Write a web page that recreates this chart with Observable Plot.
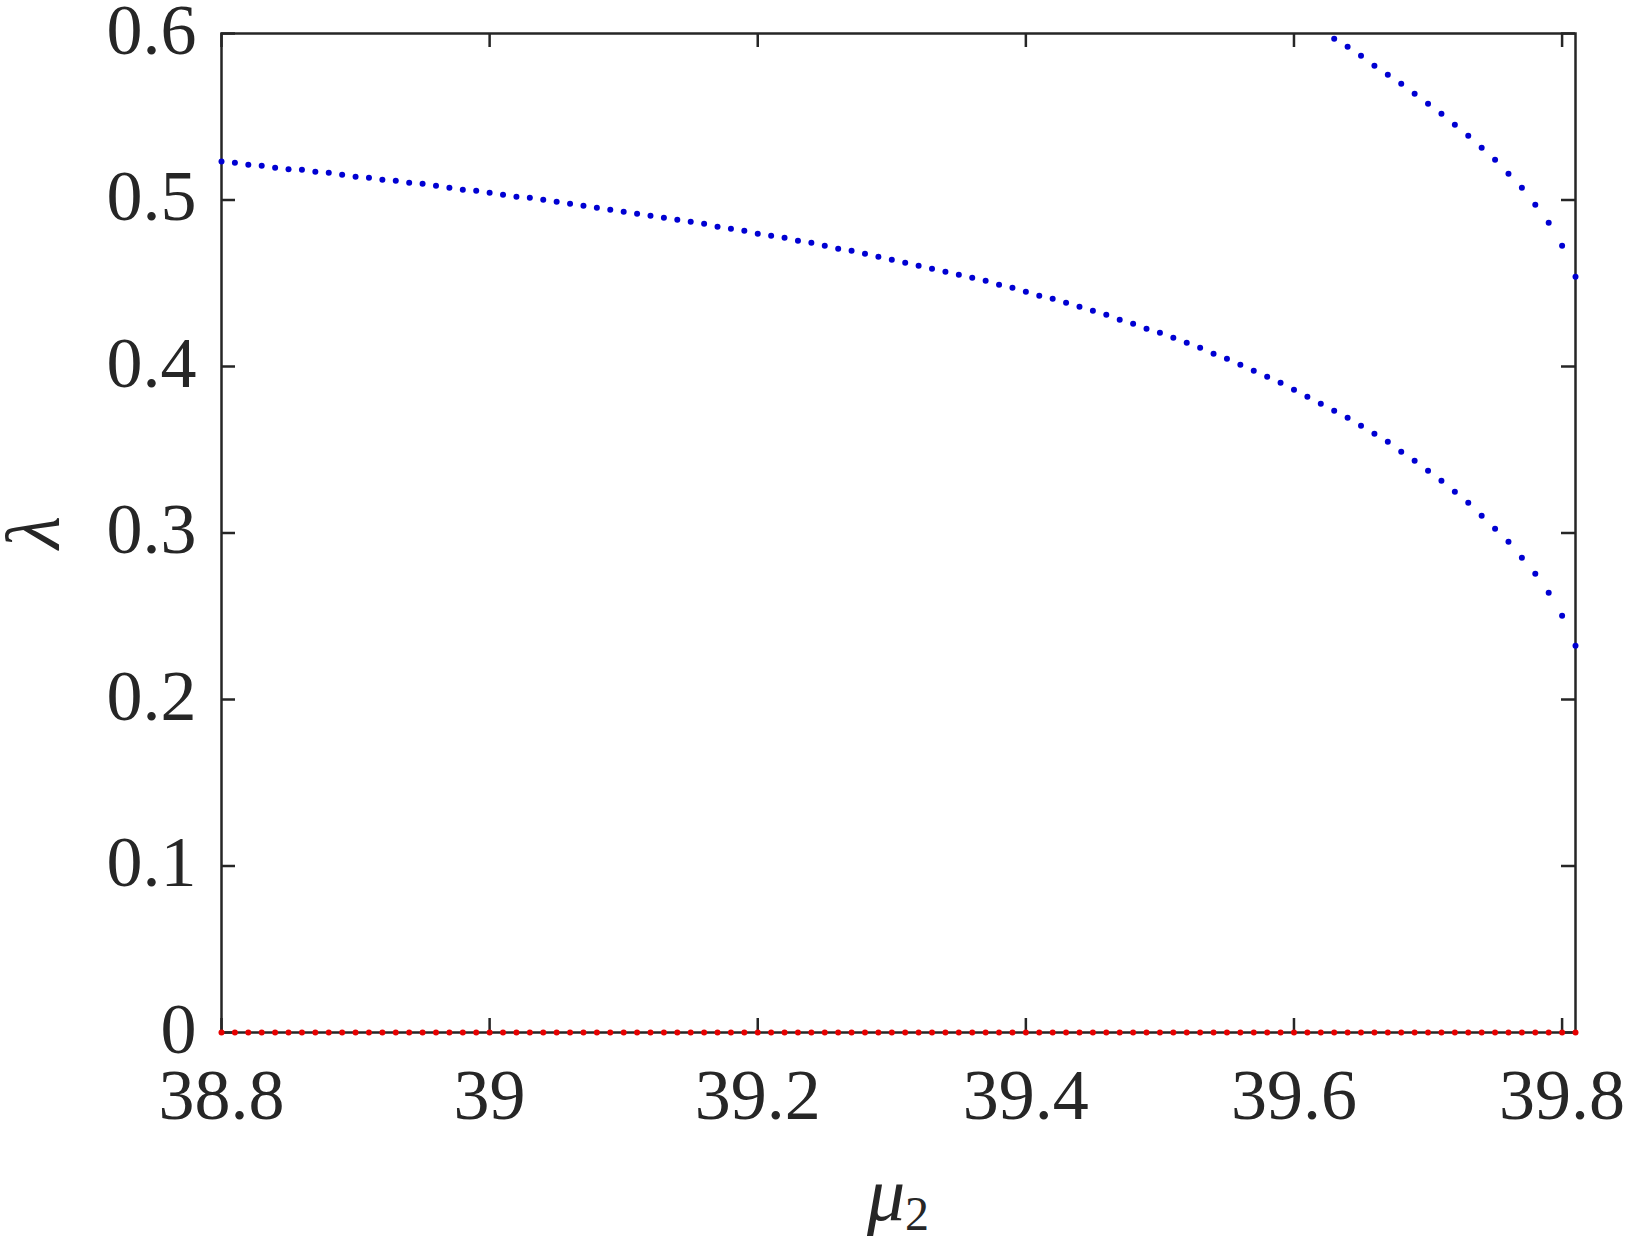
<!DOCTYPE html>
<html>
<head>
<meta charset="utf-8">
<script src="https://cdn.jsdelivr.net/npm/d3@7"></script>
<script src="https://cdn.jsdelivr.net/npm/@observablehq/plot@0.6"></script>
<style>
  html, body { margin: 0; padding: 0; background: #ffffff; }
  #chart { width: 1632px; height: 1240px; }
</style>
</head>
<body>
<div id="chart"></div>
<script>
// ---- data ----
const mu = [
  38.80, 38.81, 38.82, 38.83, 38.84, 38.85, 38.86, 38.87, 38.88, 38.89,
  38.90, 38.91, 38.92, 38.93, 38.94, 38.95, 38.96, 38.97, 38.98, 38.99,
  39.00, 39.01, 39.02, 39.03, 39.04, 39.05, 39.06, 39.07, 39.08, 39.09,
  39.10, 39.11, 39.12, 39.13, 39.14, 39.15, 39.16, 39.17, 39.18, 39.19,
  39.20, 39.21, 39.22, 39.23, 39.24, 39.25, 39.26, 39.27, 39.28, 39.29,
  39.30, 39.31, 39.32, 39.33, 39.34, 39.35, 39.36, 39.37, 39.38, 39.39,
  39.40, 39.41, 39.42, 39.43, 39.44, 39.45, 39.46, 39.47, 39.48, 39.49,
  39.50, 39.51, 39.52, 39.53, 39.54, 39.55, 39.56, 39.57, 39.58, 39.59,
  39.60, 39.61, 39.62, 39.63, 39.64, 39.65, 39.66, 39.67, 39.68, 39.69,
  39.70, 39.71, 39.72, 39.73, 39.74, 39.75, 39.76, 39.77, 39.78, 39.79,
  39.80, 39.81
];
const lambdaLower = [
  0.5231, 0.5224, 0.5212, 0.5206, 0.5194, 0.5185, 0.5181, 0.5169, 0.5164, 0.5152,
  0.5140, 0.5134, 0.5122, 0.5116, 0.5103, 0.5097, 0.5085, 0.5073, 0.5061, 0.5055,
  0.5043, 0.5031, 0.5019, 0.5013, 0.5001, 0.4989, 0.4977, 0.4965, 0.4953, 0.4941,
  0.4929, 0.4917, 0.4905, 0.4893, 0.4881, 0.4869, 0.4857, 0.4839, 0.4827, 0.4815,
  0.4797, 0.4785, 0.4773, 0.4755, 0.4743, 0.4725, 0.4707, 0.4695, 0.4677, 0.4659,
  0.4641, 0.4623, 0.4605, 0.4587, 0.4569, 0.4551, 0.4533, 0.4515, 0.4491, 0.4473,
  0.4449, 0.4425, 0.4407, 0.4383, 0.4359, 0.4335, 0.4311, 0.4281, 0.4257, 0.4227,
  0.4203, 0.4173, 0.4142, 0.4112, 0.4076, 0.4046, 0.4010, 0.3974, 0.3938, 0.3902,
  0.3860, 0.3818, 0.3776, 0.3734, 0.3692, 0.3644, 0.3596, 0.3548, 0.3488, 0.3434,
  0.3374, 0.3314, 0.3248, 0.3181, 0.3103, 0.3025, 0.2947, 0.2851, 0.2755, 0.2641,
  0.2503, 0.2323
];
const muUpper = [
  39.63, 39.64, 39.65, 39.66, 39.67, 39.68, 39.69, 39.70, 39.71, 39.72,
  39.73, 39.74, 39.75, 39.76, 39.77, 39.78, 39.79, 39.80, 39.81
];
const lambdaUpper = [
  0.5968, 0.5920, 0.5866, 0.5806, 0.5752, 0.5698, 0.5638, 0.5578, 0.5518, 0.5452,
  0.5386, 0.5314, 0.5241, 0.5157, 0.5073, 0.4971, 0.4863, 0.4725, 0.4539
];
const lambdaZero = [
  0, 0, 0, 0, 0, 0, 0, 0, 0, 0, 0, 0, 0, 0, 0, 0, 0, 0, 0, 0,
  0, 0, 0, 0, 0, 0, 0, 0, 0, 0, 0, 0, 0, 0, 0, 0, 0, 0, 0, 0,
  0, 0, 0, 0, 0, 0, 0, 0, 0, 0, 0, 0, 0, 0, 0, 0, 0, 0, 0, 0,
  0, 0, 0, 0, 0, 0, 0, 0, 0, 0, 0, 0, 0, 0, 0, 0, 0, 0, 0, 0,
  0, 0, 0, 0, 0, 0, 0, 0, 0, 0, 0, 0, 0, 0, 0, 0, 0, 0, 0, 0,
  0, 0
];
const xTicks = [38.8, 39.0, 39.2, 39.4, 39.6, 39.8];
const xTickLabels = ["38.8", "39", "39.2", "39.4", "39.6", "39.8"];
const yTicks = [0, 0.1, 0.2, 0.3, 0.4, 0.5, 0.6];
const yTickLabels = ["0", "0.1", "0.2", "0.3", "0.4", "0.5", "0.6"];
const xLabel = "μ";
const xLabelSub = "2";
const yLabel = "λ";

// ---- tables for the library ----
const lowerData = mu.map((m, i) => ({mu: m, lambda: lambdaLower[i]}));
const zeroData = mu.map((m, i) => ({mu: m, lambda: lambdaZero[i]}));
const upperData = muUpper.map((m, i) => ({mu: m, lambda: lambdaUpper[i]}));

// ---- layout / style ----
const W = 1632, H = 1240;
const mL = 221, mR = 57, mT = 33, mB = 208;
const innerW = W - mL - mR, innerH = H - mT - mB;
const axisColor = "#262626";
const tickLen = 14;
const fontFam = "'Liberation Serif', 'DejaVu Serif', serif";
const blue = "#0000d2";
const red = "#e60000";

const chart = Plot.plot({
  width: W,
  height: H,
  marginLeft: mL,
  marginRight: mR,
  marginTop: mT,
  marginBottom: mB,
  style: {fontFamily: fontFam, color: axisColor, background: "#ffffff", overflow: "visible"},
  x: {domain: [38.8, 39.81]},
  y: {domain: [0, 0.6]},
  marks: [
    Plot.axisX({ticks: xTicks, tickSize: 0, tickPadding: 35, fontSize: 72,
      tickFormat: (d) => xTickLabels[xTicks.indexOf(d)], label: null, fill: axisColor}),
    Plot.axisY({ticks: yTicks, tickSize: 0, tickPadding: 25, fontSize: 72, dy: -3,
      tickFormat: (d) => yTickLabels[yTicks.indexOf(d)], label: null, fill: axisColor}),
    Plot.frame({stroke: axisColor, strokeWidth: 2.5}),
    // inward ticks on all four sides
    Plot.tickX(xTicks, {x: (d) => d, insetTop: innerH - tickLen, stroke: axisColor, strokeWidth: 2.5}),
    Plot.tickX(xTicks, {x: (d) => d, insetBottom: innerH - tickLen, stroke: axisColor, strokeWidth: 2.5}),
    Plot.tickY(yTicks, {y: (d) => d, insetRight: innerW - tickLen, stroke: axisColor, strokeWidth: 2.5}),
    Plot.tickY(yTicks, {y: (d) => d, insetLeft: innerW - tickLen, stroke: axisColor, strokeWidth: 2.5}),
    Plot.dot(zeroData, {x: "mu", y: "lambda", r: 3, fill: red, stroke: null}),
    Plot.dot(lowerData, {x: "mu", y: "lambda", r: 3, fill: blue, stroke: null}),
    Plot.dot(upperData, {x: "mu", y: "lambda", r: 3, fill: blue, stroke: null})
  ]
});

const svg = d3.select(chart);
// x-axis label: italic mu with subscript 2
const xl = svg.append("text")
  .attr("x", mL + innerW / 2)
  .attr("y", 1220)
  .attr("text-anchor", "middle")
  .attr("font-family", fontFam)
  .attr("fill", axisColor);
xl.append("tspan").attr("font-size", 76).attr("font-style", "italic").text(xLabel);
xl.append("tspan").attr("font-size", 48).attr("dy", 10).text(xLabelSub);

// y-axis label: italic lambda, rotated
svg.append("text")
  .attr("transform", `translate(32,${mT + innerH / 2}) rotate(-90)`)
  .attr("text-anchor", "middle")
  .attr("dy", "0.35em")
  .attr("font-family", fontFam)
  .attr("font-size", 76)
  .attr("font-style", "italic")
  .attr("fill", axisColor)
  .text(yLabel);

document.getElementById("chart").appendChild(chart);
</script>
</body>
</html>
